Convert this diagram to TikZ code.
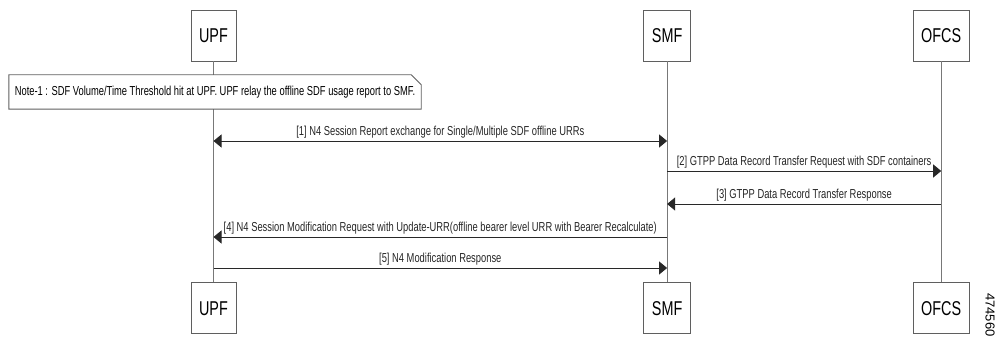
\documentclass[tikz,border=0pt]{standalone}
\usepackage{fontspec}
\setmainfont[FakeStretch=0.72]{Liberation Sans}
\newfontfamily\idfont{Liberation Sans}
\usetikzlibrary{positioning,calc,arrows.meta}
\definecolor{boxgray}{RGB}{95,95,95}
\definecolor{lifegray}{RGB}{120,120,120}
\definecolor{msgblack}{RGB}{40,40,40}

\begin{document}
\begin{tikzpicture}[
    x=1pt, y=-1pt,
    actor/.style={draw=boxgray, fill=white, line width=0.9pt, minimum width=45pt, minimum height=51pt, inner xsep=8pt, font=\fontsize{20}{22}\selectfont},
    life/.style={draw=lifegray, line width=0.8pt},
    msg/.style={-{Triangle[length=8pt,width=13pt]}, line width=0.9pt, draw=msgblack},
    msgboth/.style={{Triangle[length=8pt,width=13pt]}-{Triangle[length=8pt,width=13pt]}, line width=0.9pt, draw=msgblack},
    lbl/.style={above, inner sep=2pt, font=\fontsize{13}{15}\selectfont, text=black!85},
]
\useasboundingbox (0,0) rectangle (1002,339);

% lifeline heads
\node[actor] (upf) at (213.5,35.5) {UPF};
\node[actor, right=407pt of upf]  (smf)  {SMF};
\node[actor, right=222pt of smf]  (ofcs) {OFCS};

% lifeline feet
\node[actor, below=221pt of upf]  (upfb)  {UPF};
\node[actor, below=221pt of smf]  (smfb)  {SMF};
\node[actor, below=221pt of ofcs] (ofcsb) {OFCS};

\draw[life] (upf)  -- (upfb);
\draw[life] (smf)  -- (smfb);
\draw[life] (ofcs) -- (ofcsb);

% note over UPF
\node[fill=white, minimum width=412pt, minimum height=34pt, inner sep=0pt, font=\fontsize{13}{15}\selectfont] (note) at (215,92)
    {Note-1 : SDF Volume/Time Threshold hit at UPF. UPF relay the offline SDF usage report to SMF.};
\draw[draw=boxgray, line width=0.9pt] (note.north west) -- ($(note.north east)+(-10,0)$) -- ($(note.north east)+(0,10)$)
    -- (note.south east) -- (note.south west) -- cycle;

% messages
\coordinate (m1) at (0,141);
\coordinate (m2) at (0,171);
\coordinate (m3) at (0,204);
\coordinate (m4) at (0,237);
\coordinate (m5) at (0,268);

\draw[msgboth] (upf |- m1) -- node[lbl]{[1] N4 Session Report exchange for Single/Multiple SDF offline URRs} (smf |- m1);
\draw[msg] (smf |- m2)  -- node[lbl]{[2] GTPP Data Record Transfer Request with SDF containers} (ofcs |- m2);
\draw[msg] (ofcs |- m3) -- node[lbl]{[3] GTPP Data Record Transfer Response} (smf |- m3);
\draw[msg] (smf |- m4)  -- node[lbl]{[4] N4 Session Modification Request with Update-URR(offline bearer level URR with Bearer Recalculate)} (upf |- m4);
\draw[msg] (upf |- m5)  -- node[lbl]{[5] N4 Modification Response} (smf |- m5);

% figure id
\node[rotate=-90, anchor=west, inner sep=0pt, font=\idfont\fontsize{13}{14}\selectfont] (figid) at (990,293) {474560};
\end{tikzpicture}
\end{document}
